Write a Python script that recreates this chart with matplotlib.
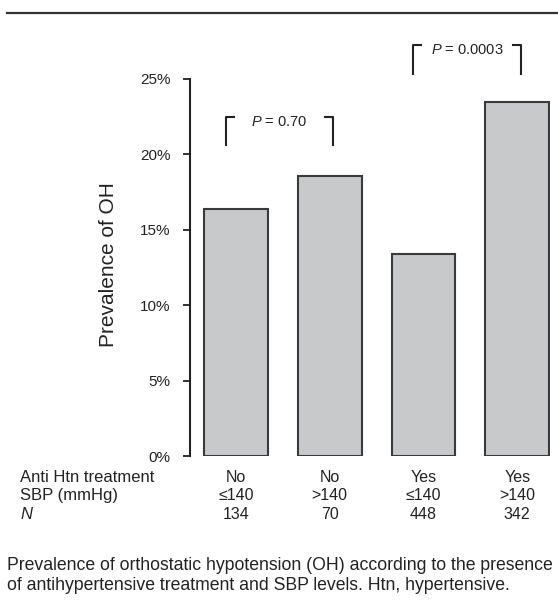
import matplotlib
matplotlib.use('Agg')
import matplotlib.pyplot as plt
import matplotlib.transforms as mtransforms

plt.rcParams['font.family'] = ['Liberation Sans', 'DejaVu Sans']
plt.rcParams['mathtext.fontset'] = 'custom'
plt.rcParams['mathtext.rm'] = 'Liberation Sans'
plt.rcParams['mathtext.it'] = 'Liberation Sans:italic'

# Data
treatment = ['No', 'No', 'Yes', 'Yes']
sbp = ['\u2264140', '>140', '\u2264140', '>140']
n_counts = ['134', '70', '448', '342']
prevalence = [16.4, 18.6, 13.4, 23.5]
yticks = [0, 5, 10, 15, 20, 25]
p_labels = ['0.70', '0.0003']
p_pairs = [(0, 1), (2, 3)]

text_col = '#222222'

fig = plt.figure(figsize=(5.58, 6.05), dpi=100)
ax = fig.add_axes([190 / 558, 1 - 456 / 605, 360 / 558, 377 / 605])

x = range(len(prevalence))
ax.bar(x, prevalence, width=0.68, color='#c8c9cb', edgecolor='#3a3a3a', linewidth=1.5)

ax.set_xlim(-0.49, 3.35)
ax.set_ylim(0, 25)
ax.set_yticks(yticks)
ax.set_yticklabels([f'{t}%' for t in yticks], fontsize=11, color=text_col)
ax.tick_params(axis='y', direction='out', length=5, width=1.3, pad=9, colors='#222222')
ax.set_xticks([])
for s in ['top', 'right', 'bottom']:
    ax.spines[s].set_visible(False)
ax.spines['left'].set_linewidth(1.5)
ax.spines['left'].set_color('#222222')
ax.set_ylabel('Prevalence of OH', fontsize=15, color=text_col)
ax.yaxis.set_label_coords(-0.2, 0.507)

# p-value brackets
bracket_y = [(20.6, 22.5), (25.3, 27.25)]
for (i, j), (y0, y1), lab in zip(p_pairs, bracket_y, p_labels):
    xl = i - 0.107
    xr = j + 0.04
    ax.plot([xl, xl, xl + 0.085], [y0, y1, y1], color='#222222', lw=1.5, clip_on=False)
    ax.plot([xr - 0.085, xr, xr], [y1, y1, y0], color='#222222', lw=1.5, clip_on=False)
    ax.text((xl + xr) / 2, y1 - 0.35, f'$P$ = {lab}', ha='center', va='center',
            fontsize=10.5, color=text_col, clip_on=False)

# table under the bars
trans = mtransforms.blended_transform_factory(ax.transData, ax.transAxes)
rows = [treatment, sbp, n_counts]
row_y = [-0.058, -0.106, -0.154]
row_names = ['Anti Htn treatment', 'SBP (mmHg)', 'N']
for vals, yy, name in zip(rows, row_y, row_names):
    for xi, v in zip(x, vals):
        ax.text(xi, yy, v, transform=trans, ha='center', va='center', fontsize=11.5, color=text_col)
    fig.text(20 / 558, 1 - (456 - yy * 377) / 605, name, ha='left', va='center', fontsize=12,
             color=text_col, style='italic' if name == 'N' else 'normal')

# top rule and caption
fig.add_artist(plt.Line2D([7 / 558, 1], [1 - 13 / 605, 1 - 13 / 605], color='#333333', lw=1.6))
fig.text(7 / 558, 1 - 566 / 605, 'Prevalence of orthostatic hypotension (OH) according to the presence',
         ha='left', va='center', fontsize=12.7, color=text_col)
fig.text(7 / 558, 1 - 585 / 605, 'of antihypertensive treatment and SBP levels. Htn, hypertensive.',
         ha='left', va='center', fontsize=12.7, color=text_col)

fig.savefig('out.png', dpi=100)
